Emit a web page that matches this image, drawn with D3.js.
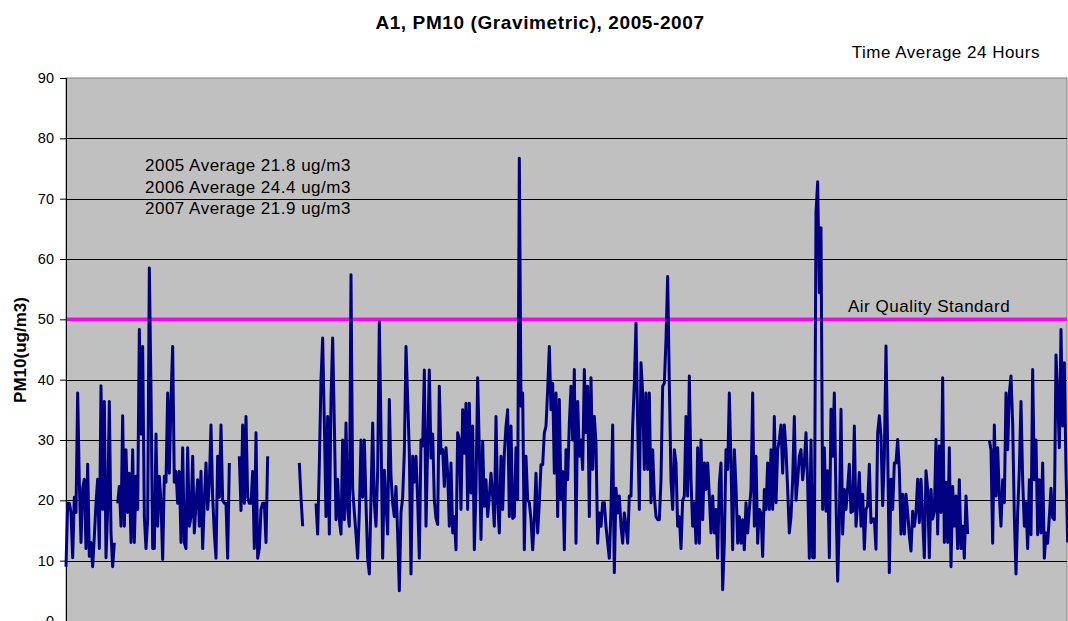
<!DOCTYPE html>
<html>
<head>
<meta charset="utf-8">
<script src="https://cdn.jsdelivr.net/npm/d3@7"></script>
<style>
  body { margin: 0; background: #fff; }
  svg { display: block; font-family: Arial, "Liberation Sans", sans-serif; }
</style>
</head>
<body>
<div id="chart"></div>
<script>
// PM10 24h samples (null = no sample)
const pm2005 = [
  9, 19.5, 19.5, 18, 10.5, 20.5, 18, 37.8, 23, 13,
  22, 23.5, 12, 26, 10.7, 13, 9, 14, 19.5, 23.5,
  12, 39, 18.5, 36.4, 10.5, 18.5, 36.4, 14.6, 9, 13,
  null, 19.5, 22.3, 15.7, 34, 15.7, 28.4, 18, 24.5, 13,
  28.4, 13, 24, 18.5, 48.3, 31, 45.5, 17.3, 12, 16.8,
  58.5, 38.3, 12, 12, 31, 15.7, 24, 19.5, 10.2, 24,
  23, 37.8, 24.5, 36.7, 45.5, 23, 24.8, 19.5, 24.8, 13,
  28.7, 13, 12, 28.7, 15.7,
  17.3, 27.3, 14.6, 19.5, 23.4, 15.7, 24.8, 12, 20, 26.2,
  18.5, 22.9, 32.5, 20.5, 14.6, 10.4, 27.3, 20.5, 32.5, 20,
  19.5, 19.5, 10.4, 26.2, null, null, null, null, null, 27.3,
  18.3, 32.5, 19.5, 33.9, 20.5, 19.5, 19.5, 24.8, 12, 31.2,
  10.4, 12, 18.5, 19.5, 19.5, 13, 27.3, null, null, null,
  null, null, null, null, null, null, null, null, null, null,
  null, null, null, null, null, 26.2, 20.5, 15.7, null, null,
  null, null, null, null, null,
  19.5, 14.4, 26, 40, 46.9, 32.8, 17.3, 33.9, 14.4, 36.7,
  46.9, 32.8, 16.8, 23.5, 16.8, 14.4, 30, 16.8, 32.8, 18.5,
  15.7, 57.4, 22, 18, 14.4, 10.4, 18, 30, 20.5, 30,
  19.5, 10.4, 7.8, 20.5, 32.8, 19.5, 15.7, 25, 49.6, 31.8,
  10.4, 25, 19.5, 14.4, 36.7, 24, 19.5, 17.3, 22.3, 14.4
];
const pm2006 = [
  5, 18, 20.5, 28, 45.5, 36.7, 28, 7.8, 27.3, 23,
  27.3, 20, 10.4, 30, 29, 41.6, 15.7, 29, 41.6, 27,
  31, 20, 17, 16, 38.9,
  27.8, 28.4, 22.3, 28.7, 24.5, 15.7, 26.2, 14.6, 17.3, 11.8,
  31.2, 30.1, 18.5, 35, 27.8, 36.1, 18.5, 36.1, 21.2, 32.3,
  11.8, 21.8, 40.3, 28.4, 13.5, 29.8, 19, 23.4, 17.3, 20.7,
  24.5, 20.7, 15.7, 33.9, 19.6, 14.6, 27.3, 18.5, 27.8, 32.3,
  35, 17.3, 32.3, 17, 17.3, 28.7, 20.1, 76.7, 35.6, 37.8,
  11.8, 27.3, 20.1, 19.6, 16.8, 11.8, 16.8, 24.5, 14.6, 19.6,
  25.9, 25.9, 31.2, 32.3, 38.3, 45.5, 35, 39.4, 24.5, 37.8,
  17.3, 36.7, 20.1, 24.8, 11.8,
  28.4, 23.4, 32.8, 38.9, 30, 41.7, 12.9, 36.4, 27.3, 30,
  25.1, 41.7, 31.2, 38.9, 17.3, 40.3, 25.1, 33.9, 29.5, 12.9,
  17.9, 15.7, 19.6, 19.6, 15.7, 12.9, 10.4, 18.5, 32.5, 8,
  22, 17.9, 20.7, 15.7, 12.9, 17.9, 15.7, 12.9, 20.7, 20.7,
  32.3, 39.4, 49.4, 32.8, 18.5, 42.8, 37.8, 25.1, 37.8, 25.1,
  37.8, 19.6, 28.4, 20.7, 17.3, 16.8, 16.8, 23.4, 38.9, 39.4,
  46.6, 57.1, 39.4, 23.4, 18.5, 28.4, 26.2, 15.7, 17.3, 12,
  20, 20.7, 33.9, 20.7, 40.6,
  23.4, 15.7, 19.6, 12.9, 28.7, 12.9, 30, 16.8, 26.2, 21.8,
  26.2, 20.7, 14.6, 20.7, 14.6, 18.5, 10.4, 22.9, 26.2, 5.2,
  12.9, 28.4, 25.1, 37.8, 26.2
];
const pm2007 = [
  11.8, 28.4, 22.3, 12.9, 17.3, 12.9, 16.8, 11.8, 19.6, 14.6,
  18.5, 21.8, 37.8, 15.7, 27.3, 12.9, 18.5, 17.9, 10.7, 21.8,
  18.5, 26.2, 18.5, 28.4, 18.5, 33.9, 19.6, 28.4, 30, 32.5,
  24.5, 32.5, 28.4, 21.8, 14.6, 17.3, 23.4, 33.9, 20, 23.4,
  27.3, 28.4, 23.4, 26.2, 31.2, 22.9, 10.4, 30, 10.5, 10.5,
  67.7, 72.8, 54.4, 65.2, 18.5, 28.7, 18.2, 24.9, 10.5, 35.1,
  27.3, 37.8, 20.2, 6.6, 16.3, 35.1, 14.4, 21.8, 18.5, 22.1,
  26, 18, 18.2, 32.3, 15.7, 19.6, 24.6, 15.7, 21, 11.9,
  18.5, 19.1, 26, 16.3, 16.9, 16.9, 11.9, 31.2, 34, 30.7,
  19.1, 27.3, 45.6, 28.5, 8, 23.5, 18.5, 26.2, 26.2, 30.1,
  25.1, 14.4, 21, 14.4, 21, 18, 14.1, 11.6, 18.2, 15.7,
  18, 23.5, 16.3, 23.5, 16.9, 10.5, 24.9, 21.8, 10.5, 21.8,
  16.9, 18.2, 30.1, 14.4, 29,
  18, 40.3, 13, 23, 13, 28.7, 9, 22.3, 15.7, 20.7,
  12, 23.4, 12, 15.7, 10.4, 20.7, 14.4, null, null, null,
  null, null, null, null, null, null, null, null, null, 30,
  28.4, 12.9, 32.5, 20.7, 28.7, 20.7, 15.7, 23.4, 19.6, 37.8,
  28.4, 37.8, 40.6, 32.8, 17.3, 7.8, 17.9, 25.1, 36.4, 23.4,
  15.7, 19.6, 12, 23.4, 14.3, 41.7, 23.4, 30, 14.3, 23.4,
  14.6, 26.2, 10.4, 14.6, 12.9, 17.3, 22, 17.1, 16.8, 44.1,
  37.2, 28.7, 48.3, 32.3, 42.8, 25, 13
];

const yTicks = [0, 10, 20, 30, 40, 50, 60, 70, 80, 90];
const averageLabels = ["2005 Average 21.8 ug/m3", "2006 Average 24.4 ug/m3", "2007 Average 21.9 ug/m3"];
const standardValue = 50;

const width = 1068, height = 621;
const margin = { top: 78, right: 1, bottom: 0, left: 66 };

const series = pm2005.concat(pm2006, pm2007);

const svg = d3.select("#chart").append("svg")
    .attr("width", width)
    .attr("height", height);

let x = d3.scaleLinear()
    .domain([0, 600])
    .range([margin.left, 1066]);

let y = d3.scaleLinear()
    .domain([0, 90])
    .range([height - margin.bottom, margin.top]);

// plot area
svg.append("rect")
    .attr("x", margin.left)
    .attr("y", margin.top)
    .attr("width", width - margin.right - margin.left)
    .attr("height", height - margin.top + 5)
    .attr("fill", "#c0c0c0")
    .attr("stroke", "#808080")
    .attr("stroke-width", 1);

// gridlines
svg.append("g")
    .selectAll("line")
    .data(yTicks.filter(d => d > 0 && d < 90))
    .enter()
    .append("line")
    .attr("x1", margin.left)
    .attr("x2", width - margin.right)
    .attr("y1", d => Math.round(y(d)) + 0.5)
    .attr("y2", d => Math.round(y(d)) + 0.5)
    .attr("stroke", "#000")
    .attr("stroke-width", 1);

// y axis
let yAxis = svg.append("g")
    .attr("transform", `translate(${margin.left},0)`)
    .call(d3.axisLeft(y).tickValues(yTicks).tickSize(6).tickPadding(6));
yAxis.select(".domain").attr("stroke", "#000");
yAxis.selectAll("line").attr("stroke", "#000");
yAxis.selectAll("text")
    .style("font-size", "14.5px")
    .style("font-family", "Arial, 'Liberation Sans', sans-serif")
    .attr("fill", "#000");

// air quality standard
svg.append("line")
    .attr("x1", margin.left + 1)
    .attr("x2", width - margin.right)
    .attr("y1", y(standardValue))
    .attr("y2", y(standardValue))
    .attr("stroke", "#ff00ff")
    .attr("stroke-width", 3.5);

svg.append("text")
    .attr("x", 848)
    .attr("y", y(standardValue) - 7)
    .style("font-size", "17px")
    .style("letter-spacing", "0.5px")
    .text("Air Quality Standard");

// data line
let line = d3.line()
    .defined(d => d != null)
    .x((d, i) => x(i))
    .y(d => y(d));

svg.append("path")
    .datum(series)
    .attr("d", line)
    .attr("fill", "none")
    .attr("stroke", "#000080")
    .attr("stroke-width", 3)
    .attr("stroke-linejoin", "round");

// yearly averages
svg.append("g")
    .selectAll("text")
    .data(averageLabels)
    .enter()
    .append("text")
    .attr("x", 145)
    .attr("y", (d, i) => 171 + i * 21.5)
    .style("font-size", "17px")
    .style("letter-spacing", "0.5px")
    .text(d => d);

// titles
svg.append("text")
    .attr("x", 540)
    .attr("y", 29)
    .style("text-anchor", "middle")
    .style("font-size", "19px")
    .style("font-weight", "bold")
    .style("letter-spacing", "0.6px")
    .text("A1, PM10 (Gravimetric), 2005-2007");

svg.append("text")
    .attr("x", 1040)
    .attr("y", 58)
    .style("text-anchor", "end")
    .style("font-size", "17px")
    .style("letter-spacing", "0.5px")
    .text("Time Average 24 Hours");

svg.append("text")
    .attr("transform", `translate(26, ${350}) rotate(-90)`)
    .style("text-anchor", "middle")
    .style("font-size", "17px")
    .style("font-weight", "bold")
    .text("PM10(ug/m3)");
</script>
</body>
</html>
